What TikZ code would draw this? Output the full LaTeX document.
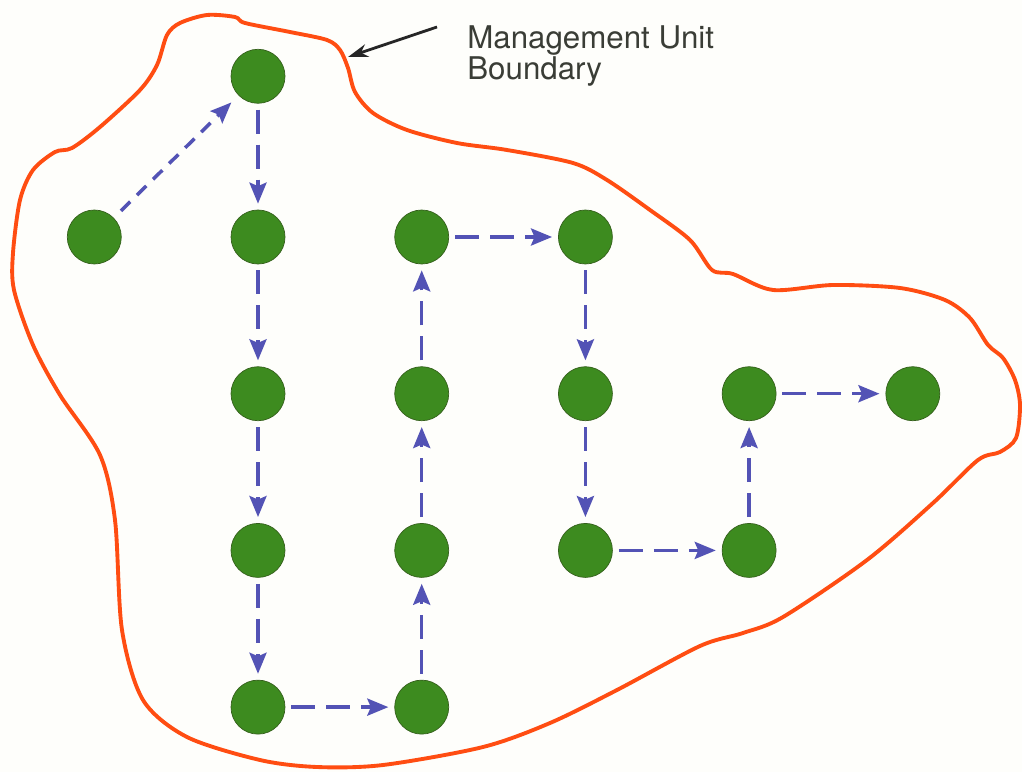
\documentclass[tikz,border=0pt]{standalone}
\usepackage{fontspec}
\setmainfont{TeX Gyre Heros}
\usetikzlibrary{arrows.meta, positioning}
\definecolor{paper}{HTML}{FEFEFB}
\definecolor{unitline}{HTML}{FF4D12}
\definecolor{standgreen}{HTML}{3D8B1F}
\definecolor{standedge}{HTML}{35601C}
\definecolor{flowblue}{HTML}{5353B5}
\definecolor{labelink}{HTML}{3A3D36}

\begin{document}
\begin{tikzpicture}[
  x=0.2mm, y=-0.2mm,
  node distance=20.4mm and 21.8mm,
  stand/.style={circle, draw=standedge, line width=0.4pt, fill=standgreen, minimum size=10.8mm, inner sep=0pt},
  flow/.style={->, draw=flowblue, line width=2pt, dash pattern=on 4.8mm off 2.2mm, shorten <=1.2mm, shorten >=1.2mm},
  pointer/.style={-{Stealth[length=4mm, width=2.6mm]}, draw=black!85, line width=1.6pt},
  >={Stealth[length=4.2mm, width=3.4mm, inset=0.7mm]}
]
\fill[paper] (0,0) rectangle (1022,772);
\useasboundingbox (0,0) rectangle (1022,772);

% management unit boundary
\draw[unitline, line width=2.2pt, line join=round] plot[smooth cycle, tension=0.5] coordinates {
  (180,23) (207,15) (235,17) (245,23) (290,32) (327,40) (340,50) (348,68)
  (355,92) (373,113) (407,130) (457,143) (507,150) (573,163) (607,180)
  (650,210) (690,240) (712,270) (733,274) (773,290) (833,285) (900,288)
  (945,300) (970,318) (988,345) (1003,358) (1015,380) (1020,405) (1016,438)
  (1000,452) (978,460) (933,503) (867,560) (783,617) (743,633) (700,646)
  (617,690) (550,723) (483,747) (383,765) (317,767) (260,760) (187,737)
  (143,700) (122,630) (115,520) (100,455) (60,395) (33,345) (14,290)
  (13,253) (20,200) (33,170) (55,152) (72,148) (100,127) (140,90)
  (157,65) (167,35)};

\node[anchor=north west, inner sep=0pt, align=left, text=labelink,
  font=\fontsize{17.8pt}{17.6pt}\selectfont] (mulabel) at (467,25) {Management Unit\\Boundary};
\coordinate (mutail) at (437,27);
\coordinate (mutip) at (348,57);
\draw[pointer] (mutail) -- (mutip);

% stands
\node[stand] (s3) at (258,237) {};
\node[stand, above=21.2mm of s3] (s2) {};
\node[stand, left=of s3] (s1) {};
\node[stand, below=of s3] (s4) {};
\node[stand, below=of s4] (s5) {};
\node[stand, below=of s5] (s6) {};
\node[stand, right=of s6] (s7) {};
\node[stand, above=of s7] (s8) {};
\node[stand, above=of s8] (s9) {};
\node[stand, above=of s9] (s10) {};
\node[stand, right=of s10] (s11) {};
\node[stand, below=of s11] (s12) {};
\node[stand, below=of s12] (s13) {};
\node[stand, right=of s13] (s14) {};
\node[stand, above=of s14] (s15) {};
\node[stand, right=of s15] (s16) {};

\draw[flow, dash pattern=on 2.6mm off 1.9mm, shorten <=2mm, shorten >=2mm] (s1) -- (s2);
\draw[flow] (s2) -- (s3);
\draw[flow] (s3) -- (s4);
\draw[flow] (s4) -- (s5);
\draw[flow] (s5) -- (s6);
\draw[flow] (s6) -- (s7);
\draw[flow] (s7) -- (s8);
\draw[flow] (s8) -- (s9);
\draw[flow] (s9) -- (s10);
\draw[flow] (s10) -- (s11);
\draw[flow] (s11) -- (s12);
\draw[flow] (s12) -- (s13);
\draw[flow] (s13) -- (s14);
\draw[flow] (s14) -- (s15);
\draw[flow] (s15) -- (s16);
\end{tikzpicture}
\end{document}
